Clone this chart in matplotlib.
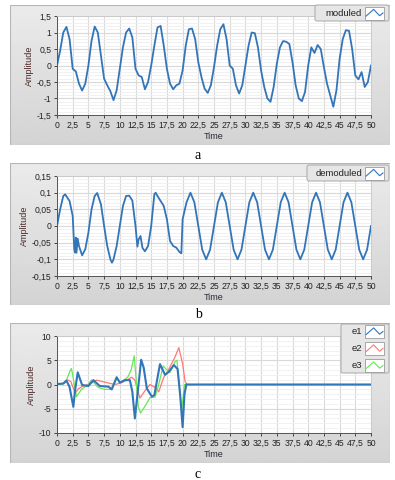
import matplotlib
matplotlib.use("Agg")
import matplotlib.pyplot as plt
from matplotlib.patches import FancyBboxPatch, Rectangle
from matplotlib.ticker import MultipleLocator, FuncFormatter
import numpy as np

plt.rcParams['font.family'] = ['Liberation Sans', 'DejaVu Sans']

# ---- data ----
mod_time = np.arange(0, 50.5, 0.5)
mod_values = [
    0.0, 0.45, 1.0, 1.17, 0.8, -0.1, -0.18, -0.55, -0.76, -0.55,
    0.0, 0.75, 1.18, 1.0, 0.3, -0.4, -0.6, -0.78, -1.05, -0.75,
    -0.1, 0.55, 1.0, 1.12, 0.85, -0.1, -0.3, -0.35, -0.72, -0.5,
    0.0, 0.6, 1.15, 1.2, 0.6, -0.1, -0.55, -0.72, -0.6, -0.55,
    -0.15, 0.6, 1.1, 1.12, 0.8, 0.1, -0.35, -0.7, -0.83, -0.6,
    -0.05, 0.6, 1.1, 1.25, 0.8, 0.0, -0.1, -0.6, -0.85, -0.6,
    0.0, 0.6, 1.0, 0.98, 0.55, -0.15, -0.65, -1.0, -1.1, -0.65,
    0.05, 0.55, 0.74, 0.72, 0.65, 0.1, -0.6, -1.0, -1.08, -0.8,
    0.0, 0.55, 0.38, 0.62, 0.5, -0.05, -0.55, -0.9, -1.25, -0.75,
    0.2, 0.8, 1.07, 1.05, 0.5, -0.3, -0.42, -0.2, -0.65, -0.5,
    0.0,
]

demod_time = [
    0, 0.5, 1.0, 1.3, 2.0, 2.5, 2.75, 2.9, 3.0, 3.1, 3.3, 3.5, 4.0, 4.5,
    5.0, 5.5, 6.0, 6.4, 7.0, 7.5, 8.0, 8.5, 8.75, 9.0, 9.5,
    10.0, 10.5, 11.0, 11.5, 12.0, 12.5, 12.8, 13.0, 13.3, 13.6, 14.0, 14.5,
    15.0, 15.5, 15.7, 16.0, 16.5, 17.0, 17.5, 18.0, 18.5, 19.0, 19.5, 19.8,
    20.0, 20.625, 21.25, 21.875, 22.5, 23.125, 23.75, 24.375,
    25.0, 25.625, 26.25, 26.875, 27.5, 28.125, 28.75, 29.375,
    30.0, 30.625, 31.25, 31.875, 32.5, 33.125, 33.75, 34.375,
    35.0, 35.625, 36.25, 36.875, 37.5, 38.125, 38.75, 39.375,
    40.0, 40.625, 41.25, 41.875, 42.5, 43.125, 43.75, 44.375,
    45.0, 45.625, 46.25, 46.875, 47.5, 48.125, 48.75, 49.375,
    50.0,
]
demod_values = [
    0.0, 0.05, 0.09, 0.095, 0.075, 0.03, -0.07, -0.08, -0.035, -0.08, -0.038, -0.06, -0.088, -0.07,
    -0.02, 0.05, 0.09, 0.099, 0.065, 0.0, -0.06, -0.1, -0.11, -0.1, -0.06,
    0.0, 0.06, 0.09, 0.091, 0.076, 0.0, -0.062, -0.04, -0.03, -0.065, -0.076, -0.06,
    0.0, 0.095, 0.1, 0.09, 0.075, 0.06, 0.02, -0.045, -0.06, -0.065, -0.078, -0.082,
    0.02, 0.071, 0.1, 0.071, 0.0, -0.071, -0.1, -0.071,
    0.0, 0.071, 0.1, 0.071, 0.0, -0.071, -0.1, -0.071,
    0.0, 0.071, 0.1, 0.071, 0.0, -0.071, -0.1, -0.071,
    0.0, 0.071, 0.1, 0.071, 0.0, -0.071, -0.1, -0.071,
    0.0, 0.071, 0.1, 0.071, 0.0, -0.071, -0.1, -0.071,
    0.0, 0.071, 0.1, 0.071, 0.0, -0.071, -0.1, -0.071,
    0.0,
]

e1_time = [0, 1.0, 1.5, 2.0, 2.6, 2.9, 3.3, 3.7, 4.0, 5.0, 5.8, 6.8, 8.2, 8.7, 9.5, 10.0,
           10.8, 11.6, 12.0, 12.4, 12.9, 13.4, 13.8, 14.3, 15.1, 15.5, 16.4, 17.2, 17.8,
           18.6, 19.2, 19.6, 20.0, 20.3, 20.6, 50.0]
e1_values = [0.1, 0.2, 0.8, -0.5, -4.6, -1.0, 2.5, 1.0, -0.1, -0.3, 0.9, -0.3, -0.45, -1.0, 1.5, 0.4,
             0.9, 0.9, -1.5, -7.0, -1.0, 5.1, 3.5, -0.8, -2.5, -2.2, 4.2, 2.0, 2.6,
             4.0, 3.2, -2.0, -8.8, -2.0, 0.0, 0.0]

e2_time = [0, 1.0, 1.6, 2.2, 2.9, 3.4, 4.0, 5.0, 6.3, 7.6, 9.2, 10.2, 11.9, 12.4, 13.2,
           14.0, 14.8, 15.6, 16.2, 17.0, 17.7, 18.8, 19.4, 20.0, 20.4, 20.7]
e2_values = [0.0, 0.2, 1.0, 0.6, -1.8, -0.9, -0.4, 0.0, 0.9, 0.5, 0.0, 0.3, 1.5, 0.9, -2.8,
             -1.3, 0.0, -0.6, -1.5, 1.5, 2.9, 5.7, 7.6, 4.3, 0.6, 0.0]

e3_time = [0, 1.0, 1.4, 2.1, 2.3, 2.7, 3.1, 3.9, 4.7, 5.5, 6.55, 7.6, 8.8, 9.5, 10.2,
           11.3, 11.8, 12.3, 12.95, 13.3, 14.0, 14.8, 15.6, 16.1, 16.9, 17.5, 18.0, 18.8,
           19.1, 19.85, 20.3, 20.7]
e3_values = [0.0, 0.1, 0.5, 2.9, 3.3, 0.5, -2.5, -1.0, -0.3, 0.9, -0.6, -1.0, -1.0, 1.3, 0.4,
             1.6, 3.0, 5.9, -4.6, -5.9, -4.5, -2.7, -2.6, -0.5, 3.8, 3.0, 2.5, 4.7,
             5.0, -5.3, 0.0, 0.0]

x_ticks = np.arange(0, 50.1, 2.5)

blue = '#3275b8'
red = '#ff7777'
green = '#66e855'

W, H = 395, 480
fig = plt.figure(figsize=(W / 100, H / 100), dpi=100)
fig.patch.set_facecolor('white')


def fx(px):
    return px / W


def fy(py):
    return 1 - py / H


def comma(v, pos):
    return ('%g' % v).replace('.', ',')


def panel(top, bottom, ptop, pbottom, ylim, ymajor, yminor, label, label_y):
    # gray frame with a soft vertical gradient
    frame = fig.add_axes([fx(10), fy(bottom), fx(380), (bottom - top) / H], zorder=0)
    frame.axis('off')
    shade = np.linspace(0.92, 0.83, 64).reshape(-1, 1)
    frame.imshow(shade, cmap='gray', vmin=0, vmax=1, aspect='auto',
                 extent=(0, 1, 0, 1), origin='upper')
    frame.set_xlim(0, 1)
    frame.set_ylim(0, 1)
    frame.add_patch(Rectangle((0, 0), 1, 1, facecolor='none', edgecolor='#b5b5b5',
                              lw=0.8, transform=frame.transAxes))
    ax = fig.add_axes([fx(57), fy(pbottom), fx(314), (pbottom - ptop) / H], zorder=1)
    ax.set_facecolor('white')
    ax.set_xlim(0, 50)
    ax.set_ylim(*ylim)
    ax.set_xticks(x_ticks)
    ax.yaxis.set_major_locator(MultipleLocator(ymajor))
    ax.yaxis.set_minor_locator(MultipleLocator(yminor))
    ax.xaxis.set_major_formatter(FuncFormatter(comma))
    ax.yaxis.set_major_formatter(FuncFormatter(comma))
    ax.grid(True, which='major', color='#d9d9d9', lw=0.8)
    ax.grid(True, which='minor', axis='y', color='#efefef', lw=0.6)
    ax.set_axisbelow(True)
    for s in ['top', 'right']:
        ax.spines[s].set_color('#c8c8c8')
        ax.spines[s].set_linewidth(0.6)
    for s in ['left', 'bottom']:
        ax.spines[s].set_color('#555555')
        ax.spines[s].set_linewidth(0.7)
    ax.tick_params(which='major', length=2.5, width=0.7, color='#444444',
                   labelsize=6.2, labelcolor='#222222', pad=1.5)
    ax.tick_params(which='minor', length=0)
    ax.set_xlabel('Time', fontsize=6.5, color='#2a2a3a', labelpad=1.5)
    ax.set_ylabel('Amplitude', fontsize=6.5, color='#4a2828', labelpad=2)
    fig.text(fx(198), fy(label_y), label, ha='center', va='center',
             family=['Liberation Serif', 'DejaVu Serif'], fontsize=10)
    return ax


def legend_box(x0, y0, x1, y1, names, colors):
    lax = fig.add_axes([fx(x0), fy(y1), fx(x1 - x0), (y1 - y0) / H], zorder=5)
    lax.set_xlim(x0, x1)
    lax.set_ylim(y1, y0)
    lax.axis('off')
    lax.add_patch(FancyBboxPatch((x0 + 1, y0 + 1), x1 - x0 - 2, y1 - y0 - 2,
                                 boxstyle='round,pad=0,rounding_size=2',
                                 facecolor='#e6e6e6', edgecolor='#a8a8a8', lw=0.7))
    n = len(names)
    step = (y1 - y0) / n
    for i, (name, c) in enumerate(zip(names, colors)):
        yc = y0 + step * (i + 0.5)
        lax.text(x1 - 28, yc, name, ha='right', va='center', fontsize=6.8, color='#222222')
        lax.add_patch(Rectangle((x1 - 25, yc - 6.5), 19, 13, facecolor='white',
                                edgecolor='#9a9a9a', lw=0.6))
        gx = x1 - 24 + np.array([0, 0.45, 0.8, 1.0]) * 17
        gy = yc + np.array([3.5, -4, 3, 0]) * 0.9
        lax.plot(gx, gy, color=c, lw=0.8)


# a: moduled
ax1 = panel(5, 145, 16, 115, (-1.5, 1.5), 0.5, 0.1, 'a', 155)
ax1.plot(mod_time, mod_values, color=blue, lw=1.3)
legend_box(314, 4, 390, 22, ['moduled'], [blue])

# b: demoduled
ax2 = panel(163, 305, 176, 276, (-0.15, 0.15), 0.05, 0.01, 'b', 315)
ax2.plot(demod_time, demod_values, color=blue, lw=1.3)
legend_box(306, 164, 390, 182, ['demoduled'], [blue])

# c: e1, e2, e3
ax3 = panel(323, 463, 336, 433, (-10, 10), 5, 1, 'c', 474)
ax3.plot(e2_time, e2_values, color=red, lw=0.9)
ax3.plot(e3_time, e3_values, color=green, lw=0.9)
ax3.plot(e1_time, e1_values, color=blue, lw=1.5)
legend_box(340, 323, 390, 374, ['e1', 'e2', 'e3'], [blue, red, green])

fig.savefig('out.png', dpi=100, facecolor='white')
